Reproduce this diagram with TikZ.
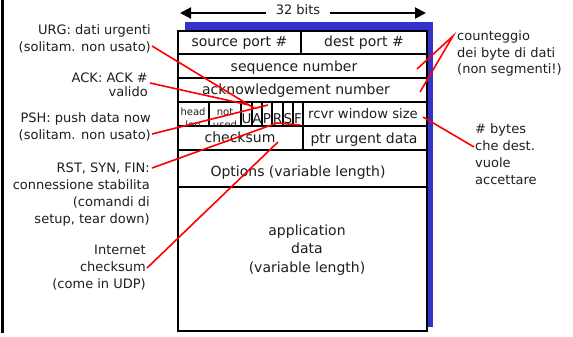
\documentclass[tikz,border=0pt]{standalone}
\usepackage{fontspec}
\setmainfont{DejaVu Sans}
\usetikzlibrary{arrows.meta}
\definecolor{shadowblue}{RGB}{51,51,204}
\definecolor{txtgray}{RGB}{30,30,30}
\begin{document}
\begin{tikzpicture}[x=1pt,y=-1pt,
  cell/.style={draw=black,line width=2pt},
  boxtxt/.style={font=\fontsize{14}{18.5}\selectfont,inner sep=0pt,align=center,text=txtgray},
  flagtxt/.style={font=\fontsize{13.5}{14}\selectfont,inner sep=0pt,text=txtgray},
  smalltxt/.style={font=\fontsize{10}{13}\selectfont,inner sep=0pt,align=center,text=txtgray},
  lside/.style={font=\fontsize{13}{16.7}\selectfont,align=right,inner sep=0pt,anchor=base east,text=txtgray},
  rside/.style={font=\fontsize{13}{16.7}\selectfont,align=left,inner sep=0pt,anchor=base west,text=txtgray},
  pointer/.style={draw=red,line width=1.6pt},
  span/.style={line width=2pt,-{Triangle[length=11pt,width=11pt]}}]
\useasboundingbox (0,0) rectangle (573,337);

% left edge bar
\draw[line width=3pt] (2.5,0) -- (2.5,333);

% 32 bits arrow
\node[font=\fontsize{13}{16}\selectfont,inner sep=0pt,anchor=base,text=txtgray] (bits) at (298,15) {32 bits};
\coordinate (bitsL) at (180,13);
\coordinate (bitsR) at (426,13);
\draw[span] (bits.west |- bitsL) ++(-10,0) -- (bitsL);
\draw[span] (bits.east |- bitsR) ++(10,0) -- (bitsR);

% shadow and box
\fill[shadowblue] (185,22) rectangle (433,327);
\fill[white] (178,31) rectangle (427,331);

% rows
\draw[cell] (178,54) -- (427,54);
\draw[cell] (178,78) -- (427,78);
\draw[cell] (178,102) -- (427,102);
\draw[cell] (178,126) -- (427,126);
\draw[cell] (178,150) -- (427,150);
\draw[cell] (178,187) -- (427,187);
% columns
\draw[cell] (301,31) -- (301,54);
\foreach \xx in {209,241,252,262,272,283,293,303}
  \draw[cell] (\xx,102) -- (\xx,126);
\draw[cell] (303,126) -- (303,150);
\draw[cell] (178,31) rectangle (427,331);

% box texts
\node[boxtxt,anchor=base] (sport) at (239.5,47) {source port \#};
\node[boxtxt,anchor=base] (dport) at (364,47) {dest port \#};
\node[boxtxt,anchor=base] (seq) at (294,71) {sequence number};
\node[boxtxt,anchor=base] (ack) at (296,95) {acknowledgement number};
\node[boxtxt,anchor=base,font=\fontsize{13.2}{16}\selectfont] (rcvr) at (363,118.5) {rcvr window size};
\node[boxtxt,anchor=base] (csum) at (240,142) {checksum};
\node[boxtxt,anchor=base] (ptr) at (364,143) {ptr urgent data};
\node[boxtxt,anchor=base] (opts) at (298,176.5) {Options (variable length)};
\node[boxtxt,anchor=base] (appdata) at (307,272) {application\\data\\(variable length)};

% flags
\begin{scope}
  \clip (178,102) rectangle (241,126);
  \node[smalltxt,anchor=base] (hlen) at (193,128) {head\\len};
  \node[smalltxt,anchor=base] (nused) at (225,128) {not\\used};
\end{scope}
\node[flagtxt,anchor=base] (fU) at (246.5,123) {U};
\node[flagtxt,anchor=base] (fA) at (257,123) {A};
\node[flagtxt,anchor=base] (fP) at (267,123) {P};
\node[flagtxt,anchor=base] (fR) at (277.5,123) {R};
\node[flagtxt,anchor=base] (fS) at (288,123) {S};
\node[flagtxt,anchor=base] (fF) at (298,123) {F};

% left labels
\node[lside] (urg) at (151,51.5) {URG: dati urgenti\\(solitam. non usato)};
\node[lside] (ackl) at (148,96.5) {ACK: ACK \#\\[-3pt]valido};
\node[lside] (psh) at (151,139) {PSH: push data now\\(solitam. non usato)};
\node[lside] (rst) at (150,223) {RST, SYN, FIN:\\connessione stabilita\\(comandi di\\setup, tear down)};
\node[lside] (inet) at (146,288) {Internet\\checksum\\(come in UDP)};

% right labels
\node[rside] (count) at (457,74) {counteggio\\dei byte di dati\\(non segmenti!)};
\node[rside] (bytes) at (475,184) {\# bytes\\che dest.\\vuole\\accettare};

% pointer coordinates
\coordinate (urgS) at (152,46);
\coordinate (urgE) at (254,108);
\coordinate (ackS) at (150,83);
\coordinate (ackE) at (249,105);
\coordinate (pshS) at (152,134);
\coordinate (pshE) at (268,105);
\coordinate (rstS) at (152,168);
\coordinate (rstM) at (277,123);
\coordinate (rstE) at (300,125);
\coordinate (inetS) at (147,268);
\coordinate (inetE) at (278,142);
\coordinate (cntS) at (453,36);
\coordinate (cntE1) at (417,69);
\coordinate (cntE2) at (420,92);
\coordinate (bytS) at (474,147);
\coordinate (bytE) at (423,117);

\draw[pointer] (urgS) -- (urgE);
\draw[pointer] (ackS) -- (ackE);
\draw[pointer] (pshS) -- (pshE);
\draw[pointer] (rstS) -- (rstM) -- (rstE);
\draw[pointer] (inetS) -- (inetE);
\draw[pointer] (cntE1) -- (cntS) -- (cntE2);
\draw[pointer] (bytS) -- (bytE);
\end{tikzpicture}
\end{document}
